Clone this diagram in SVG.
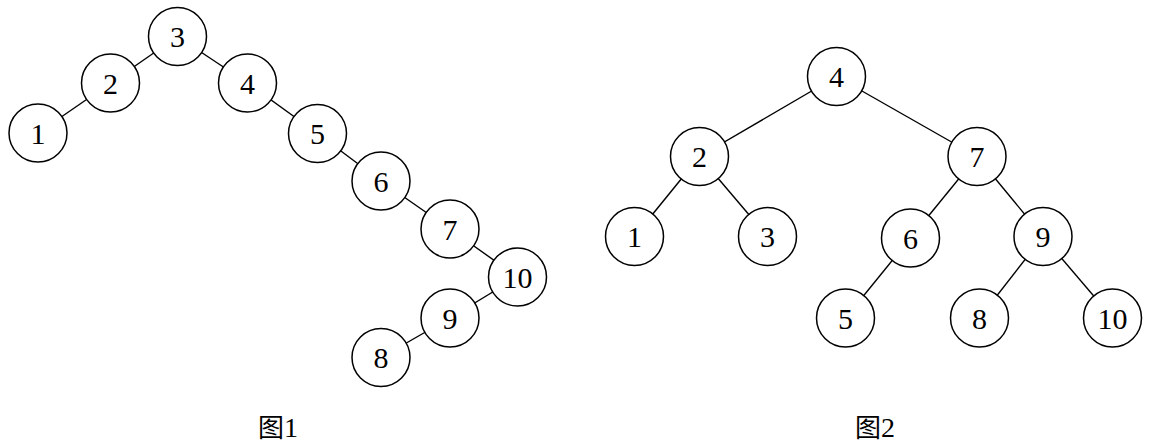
<svg xmlns="http://www.w3.org/2000/svg" width="1152" height="448" viewBox="0 0 1152 448">
<style>
.n circle{fill:#fff;stroke:#000;stroke-width:1.5}
.n text{font-family:"Liberation Serif","Times New Roman",serif;font-size:30px;text-anchor:middle;fill:#000}
.e line{stroke:#000;stroke-width:1.4}
.cap{font-family:"Noto Sans CJK SC",serif;font-size:26px;text-anchor:middle;fill:#000}
.capd{font-family:"Liberation Serif",serif;font-size:28px}
</style>
<rect width="1152" height="448" fill="#fff"/>
<g id="connectors" class="e">
<line x1="177.5" y1="36.5" x2="110.5" y2="83"/>
<line x1="177.5" y1="36.5" x2="247.5" y2="83"/>
<line x1="110.5" y1="83" x2="38" y2="133"/>
<line x1="247.5" y1="83" x2="317.5" y2="133.5"/>
<line x1="317.5" y1="133.5" x2="381" y2="181"/>
<line x1="381" y1="181" x2="450" y2="229"/>
<line x1="450" y1="229" x2="517.5" y2="277"/>
<line x1="517.5" y1="277" x2="450" y2="318"/>
<line x1="450" y1="318" x2="381" y2="357.5"/>
<line x1="836.5" y1="76.5" x2="699.5" y2="156.5"/>
<line x1="836.5" y1="76.5" x2="977" y2="156.5"/>
<line x1="699.5" y1="156.5" x2="634.5" y2="236.5"/>
<line x1="699.5" y1="156.5" x2="767.5" y2="236.5"/>
<line x1="977" y1="156.5" x2="910.5" y2="238"/>
<line x1="977" y1="156.5" x2="1043" y2="236.5"/>
<line x1="910.5" y1="238" x2="845.5" y2="318"/>
<line x1="1043" y1="236.5" x2="979.5" y2="318"/>
<line x1="1043" y1="236.5" x2="1112.5" y2="318"/>
</g>
<g id="t1-n3" class="n"><circle cx="177.5" cy="36.5" r="29"/><text x="177.5" y="47">3</text></g>
<g id="t1-n2" class="n"><circle cx="110.5" cy="83" r="29"/><text x="110.5" y="93.5">2</text></g>
<g id="t1-n4" class="n"><circle cx="247.5" cy="83" r="29"/><text x="247.5" y="93.5">4</text></g>
<g id="t1-n1" class="n"><circle cx="38" cy="133" r="29"/><text x="38" y="143.5">1</text></g>
<g id="t1-n5" class="n"><circle cx="317.5" cy="133.5" r="29"/><text x="317.5" y="144">5</text></g>
<g id="t1-n6" class="n"><circle cx="381" cy="181" r="29"/><text x="381" y="191.5">6</text></g>
<g id="t1-n7" class="n"><circle cx="450" cy="229" r="29"/><text x="450" y="239.5">7</text></g>
<g id="t1-n10" class="n"><circle cx="517.5" cy="277" r="29"/><text x="517.5" y="287.5">10</text></g>
<g id="t1-n9" class="n"><circle cx="450" cy="318" r="29"/><text x="450" y="328.5">9</text></g>
<g id="t1-n8" class="n"><circle cx="381" cy="357.5" r="29"/><text x="381" y="368">8</text></g>
<g id="t2-n4" class="n"><circle cx="836.5" cy="76.5" r="29"/><text x="836.5" y="87">4</text></g>
<g id="t2-n2" class="n"><circle cx="699.5" cy="156.5" r="29"/><text x="699.5" y="167">2</text></g>
<g id="t2-n7" class="n"><circle cx="977" cy="156.5" r="29"/><text x="977" y="167">7</text></g>
<g id="t2-n1" class="n"><circle cx="634.5" cy="236.5" r="29"/><text x="634.5" y="247">1</text></g>
<g id="t2-n3" class="n"><circle cx="767.5" cy="236.5" r="29"/><text x="767.5" y="247">3</text></g>
<g id="t2-n6" class="n"><circle cx="910.5" cy="238" r="29"/><text x="910.5" y="248.5">6</text></g>
<g id="t2-n9" class="n"><circle cx="1043" cy="236.5" r="29"/><text x="1043" y="247">9</text></g>
<g id="t2-n5" class="n"><circle cx="845.5" cy="318" r="29"/><text x="845.5" y="328.5">5</text></g>
<g id="t2-n8" class="n"><circle cx="979.5" cy="318" r="29"/><text x="979.5" y="328.5">8</text></g>
<g id="t2-n10" class="n"><circle cx="1112.5" cy="318" r="29"/><text x="1112.5" y="328.5">10</text></g>
<text class="cap" x="278" y="437">图<tspan class="capd">1</tspan></text>
<text class="cap" x="875" y="437">图<tspan class="capd">2</tspan></text>
</svg>
